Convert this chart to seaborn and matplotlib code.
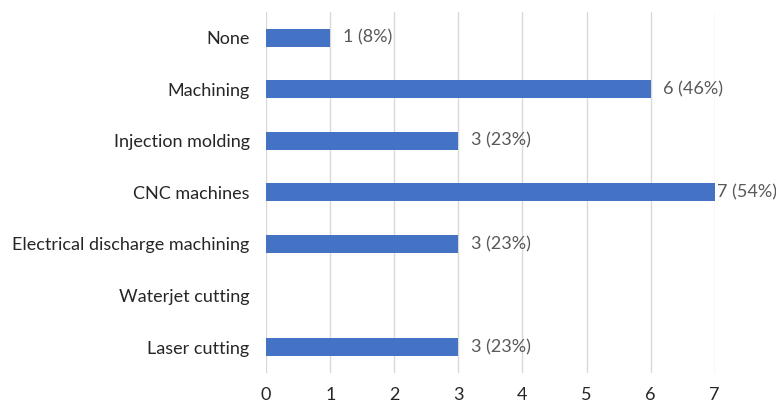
import matplotlib
matplotlib.use("Agg")
import matplotlib.pyplot as plt
import seaborn as sns
import pandas as pd

categories = ["None", "Machining", "Injection molding", "CNC machines",
              "Electrical discharge machining", "Waterjet cutting", "Laser cutting"]
counts = [1, 6, 3, 7, 3, 0, 3]
total_respondents = 13
x_ticks = [0, 1, 2, 3, 4, 5, 6, 7]

sns.set_theme(style="white")
plt.rcParams["font.family"] = ["Lato", "DejaVu Sans"]

df = pd.DataFrame({"category": categories, "count": counts})

fig = plt.figure(figsize=(7.76, 4.08), dpi=100)
ax = fig.add_axes([0.343, 0.086, 0.578, 0.885])

sns.barplot(data=df, x="count", y="category", orient="h", color="#4472C4",
            width=0.35, saturation=1, linewidth=0, ax=ax, zorder=3)

ax.set_xlim(0, 7)
ax.set_ylim(6.5, -0.5)
ax.set_xticks(x_ticks)
ax.grid(axis="x", color="#D9D9D9", linewidth=1, zorder=0)
ax.grid(axis="y", visible=False)
for s in ax.spines.values():
    s.set_visible(False)
ax.set_xlabel("")
ax.set_ylabel("")
ax.tick_params(axis="y", length=0, pad=12, labelsize=13, labelcolor="#262626")
ax.tick_params(axis="x", length=0, pad=10, labelsize=13, labelcolor="#262626")

for i, v in enumerate(counts):
    if v == 0:
        continue
    pct = round(100 * v / total_respondents)
    pad = 2 if v >= ax.get_xlim()[1] else 9
    ax.annotate(f"{v} ({pct}%)", xy=(v, i), xytext=(pad, 0),
                textcoords="offset points", va="center", ha="left",
                fontsize=13, color="#595959")

fig.savefig("out.png", dpi=100)
